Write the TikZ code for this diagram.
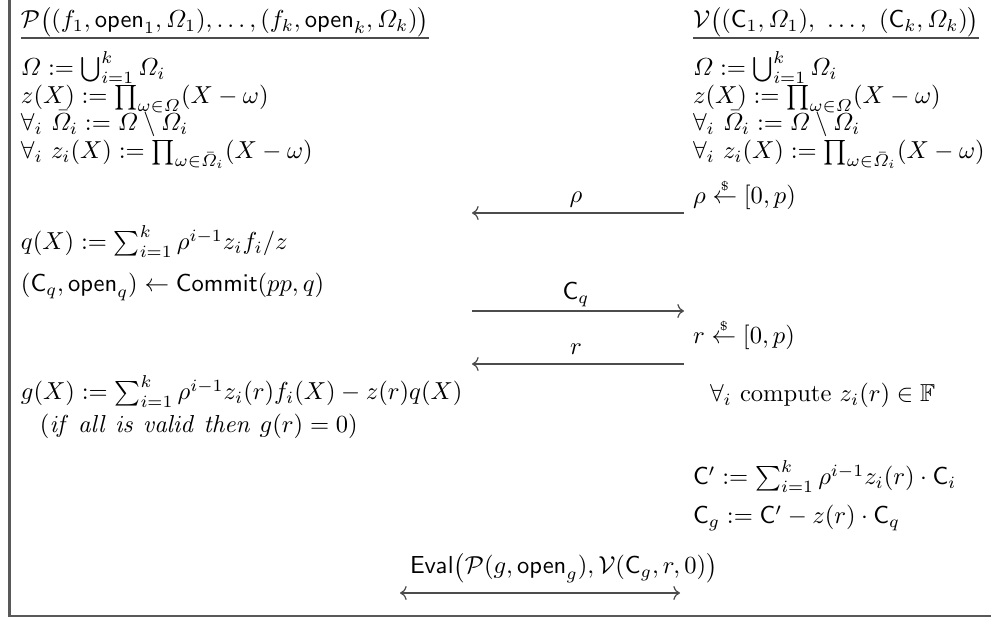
\documentclass[tikz,border=0pt]{standalone}
\usepackage{amsmath,amssymb}
\usetikzlibrary{arrows.meta}
\newcommand{\smp}{\overset{\scriptscriptstyle\$}{\leftarrow}}
\begin{document}
\begin{tikzpicture}[x=0.407pt,y=-0.407pt,
  txt/.style={anchor=base west,inner sep=0pt,outer sep=0pt},
  lbl/.style={anchor=base,inner sep=0pt,outer sep=0pt},
  msg/.style={draw=black!70,line width=0.5pt},
  uline/.style={draw=black!70,line width=0.5pt},
  frame/.style={draw=black!65,line width=1pt}]
\useasboundingbox (0,0) rectangle (991,618);
\draw[frame] (9.5,0) -- (9.5,616) -- (991,616);
% headers
\node[txt] (ph) at (21,28) {$\mathcal{P}\big((f_1,\mathsf{open}_1,\varOmega_1),\ldots,(f_k,\mathsf{open}_k,\varOmega_k)\big)$};
\node[txt] (vh) at (693,28) {$\mathcal{V}\big((\mathsf{C}_1,\varOmega_1),\ \ldots,\ (\mathsf{C}_k,\varOmega_k)\big)$};
\draw[uline] (ph.west |- 0,38) -- (ph.east |- 0,38);
\draw[uline] (vh.west |- 0,38) -- (vh.east |- 0,38);
% common definitions
\foreach \side/\xx in {L/21,R/693}{
  \node[txt] (\side1) at (\xx,76) {$\varOmega:=\bigcup_{i=1}^{k}\varOmega_i$};
  \node[txt] (\side2) at (\xx,104) {$z(X):=\prod_{\omega\in\varOmega}(X-\omega)$};
  \node[txt] (\side3) at (\xx,131) {$\forall_i\ \bar{\varOmega}_i:=\varOmega\setminus\varOmega_i$};
  \node[txt] (\side4) at (\xx,159) {$\forall_i\ z_i(X):=\prod_{\omega\in\bar{\varOmega}_i}(X-\omega)$};
}
% prover
\node[txt] (q) at (21,250) {$q(X):=\sum_{i=1}^{k}\rho^{i-1}z_if_i/z$};
\node[txt] (cm) at (21,292) {$(\mathsf{C}_q,\mathsf{open}_q)\leftarrow\mathsf{Commit}(pp,q)$};
\node[txt] (g) at (21,400) {$g(X):=\sum_{i=1}^{k}\rho^{i-1}z_i(r)f_i(X)-z(r)q(X)$};
\node[txt] (ok) at (40,433) {$(\mathit{if\ all\ is\ valid\ then}\ g(r)=0)$};
% verifier
\node[txt] (srho) at (693,204) {$\rho\smp[0,p)$};
\node[txt] (sr) at (693,344) {$r\smp[0,p)$};
\node[txt] (cz) at (710,402) {$\forall_i\ \text{compute}\ z_i(r)\in\mathbb{F}$};
\node[txt] (cp) at (693,485) {$\mathsf{C}':=\sum_{i=1}^{k}\rho^{i-1}z_i(r)\cdot\mathsf{C}_i$};
\node[txt] (cg) at (693,524) {$\mathsf{C}_g:=\mathsf{C}'-z(r)\cdot\mathsf{C}_q$};
% messages
\coordinate (a1r) at (684,213); \coordinate (a1l) at (472,213);
\coordinate (a2l) at (472,311); \coordinate (a2r) at (684,311);
\coordinate (a3r) at (684,364); \coordinate (a3l) at (472,364);
\coordinate (a4l) at (400,593); \coordinate (a4r) at (680,593);
\draw[msg,->] (a1r) -- (a1l);
\draw[msg,->] (a2l) -- (a2r);
\draw[msg,->] (a3r) -- (a3l);
\draw[msg,<->] (a4l) -- (a4r);
\node[lbl] (lrho) at (576,203) {$\rho$};
\node[lbl] (lcq) at (576,300) {$\mathsf{C}_q$};
\node[lbl] (lr) at (576,355) {$r$};
\node[txt] (ev) at (410,574) {$\mathsf{Eval}\big(\mathcal{P}(g,\mathsf{open}_g),\mathcal{V}(\mathsf{C}_g,r,0)\big)$};
\end{tikzpicture}
\end{document}
